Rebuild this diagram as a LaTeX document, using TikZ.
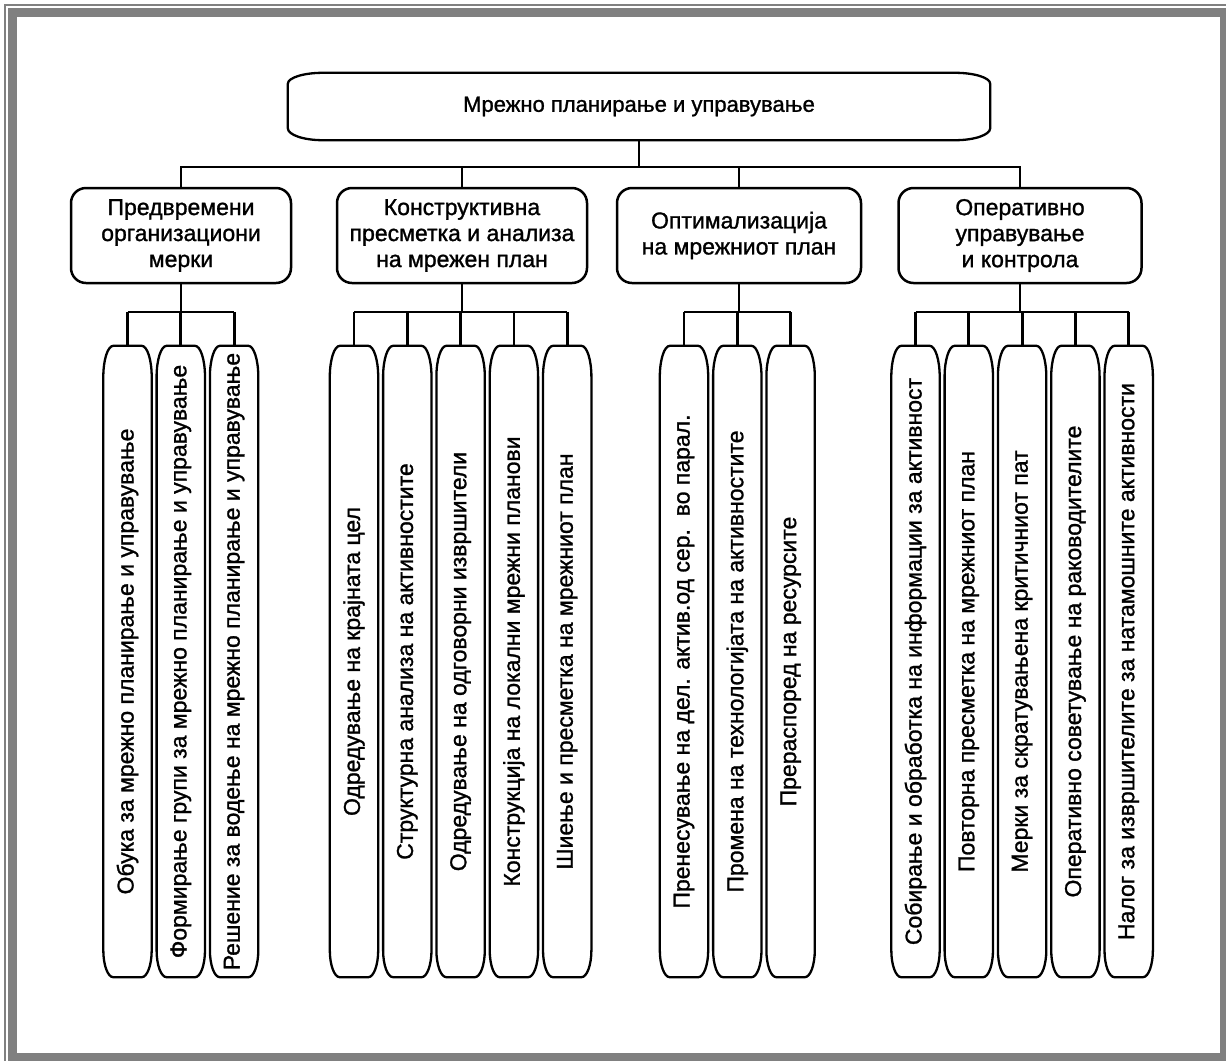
\documentclass[tikz,border=0pt]{standalone}
\usepackage{fontspec}
\newfontfamily\diagfont{Liberation Sans}[UprightFeatures={FakeBold=1.2}]
\begin{document}
\begin{tikzpicture}[x=1pt,y=-1pt,
  frame/.style={fill=framegray, draw=none},
  conn/.style={line width=2.8pt, line join=miter},
  outline/.style={line width=2.3pt, line join=round},
  topbox/.style={minimum width=702pt, minimum height=67pt, inner sep=0pt, font=\diagfont\fontsize{22}{26}\selectfont},
  midbox/.style={draw, line width=2.5pt, rounded corners=15pt, minimum width=#1, minimum height=95pt,
    align=center, inner sep=0pt, font=\diagfont\fontsize{23}{26}\selectfont},
  leafbox/.style={minimum width=48pt, minimum height=631pt, inner sep=0pt},
  leaftext/.style={rotate=90, inner sep=0pt, font=\diagfont\fontsize{23}{26}\selectfont},
]
\definecolor{framegray}{HTML}{808080}
\useasboundingbox (0,0) rectangle (1226,1061);

% double grey frame with a heavy band on every side
\fill[frame] (4,4) rectangle (1226,5.7);
\fill[frame] (4,4) rectangle (5.7,1061);
\fill[frame] (8.3,8.3) rectangle (1226,16.7);
\fill[frame] (8.3,8.3) rectangle (16.7,1061);
\fill[frame] (1220,8.3) rectangle (1226,1061);
\fill[frame] (8.3,1053.3) rectangle (1226,1061);

% barrel outline: flat ends, elliptical corners
\newcommand\hbarrel[1]{%
  \draw[outline] ([yshift=-11pt]#1.north west) arc[start angle=180,end angle=90,x radius=35pt,y radius=11pt]
    -- ([xshift=-35pt]#1.north east) arc[start angle=90,end angle=0,x radius=35pt,y radius=11pt]
    -- ([yshift=12pt]#1.south east) arc[start angle=0,end angle=-90,x radius=35pt,y radius=12pt]
    -- ([xshift=35pt]#1.south west) arc[start angle=270,end angle=180,x radius=35pt,y radius=12pt]
    -- cycle;}
\newcommand\vbarrel[1]{%
  \draw[outline] ([yshift=-31pt]#1.north west) arc[start angle=180,end angle=90,x radius=10pt,y radius=31pt]
    -- ([xshift=-10pt]#1.north east) arc[start angle=90,end angle=0,x radius=10pt,y radius=31pt]
    -- ([yshift=27pt]#1.south east) arc[start angle=0,end angle=-90,x radius=10pt,y radius=27pt]
    -- ([xshift=10pt]#1.south west) arc[start angle=270,end angle=180,x radius=10pt,y radius=27pt]
    -- cycle;}

% root
\node[topbox] (top) at (639,106.5) {Мрежно планирање и управување};
\hbarrel{top}

% second level
\node[midbox=220pt] (m1) at (181,235.5) {Предвремени\\организациони\\мерки};
\node[midbox=250pt] (m2) at (462,235.5) {Конструктивна\\пресметка и анализа\\на мрежен план};
\node[midbox=244pt] (m3) at (739,235.5) {Оптимализација\\на мрежниот план};
\node[midbox=243pt] (m4) at (1020,235.5) {Оперативно\\управување\\и контрола};

\coordinate (topbus) at (639,167);
\draw[conn] (top.south) -- (topbus);
\draw[conn] (m1.north) -- (m1.north |- topbus) -- (m4.north |- topbus) -- (m4.north);
\draw[conn] (m2.north) -- (m2.north |- topbus);
\draw[conn] (m3.north) -- (m3.north |- topbus);

% leaves: #1 group, #2 parent, #3 first centre x, #4 count, #5 labels
\newcommand\leafgroup[5]{%
  \coordinate (#2bus) at (#2.south |- 0,312);
  \foreach \t [count=\i] in {#5} {
    \pgfmathsetmacro\cx{#3+(\i-1)*53.3}
    \node[leafbox] (l#1-\i) at (\cx,661.5) {};
    \vbarrel{l#1-\i}
    \node[leaftext] (t#1-\i) at (l#1-\i.center) {\t};
    \draw[conn] (l#1-\i.north) -- (l#1-\i.north |- #2bus);
  }
  \draw[conn] (#2.south) -- (#2bus);
  \draw[conn] (l#1-1.north |- #2bus) -- (l#1-#4.north |- #2bus);
}

\leafgroup{1}{m1}{127.5}{3}{Обука за мрежно планирање и управување,
  Формирање групи за мрежно планирање и управување,
  Решение за водење на мрежно планирање и управување}
\leafgroup{2}{m2}{354}{5}{Одредување на крајната цел,
  Структурна анализа на активностите,
  Одредување на одговорни извршители,
  Конструкција на локални мрежни планови,
  Шиење и пресметка на мрежниот план}
\leafgroup{3}{m3}{684}{3}{Пренесување на дел. актив.од сер.\ \ во парал.,
  Промена на технологијата на активностите,
  Прераспоред на ресурсите}
\leafgroup{4}{m4}{915.5}{5}{Собирање и обработка на информации за активност,
  Повторна пресметка на мрежниот план,
  Мерки за скратувањена критичниот пат,
  Оперативно советување на раководителите,
  Налог за извршителите за натамошните активности}
\end{tikzpicture}
\end{document}
